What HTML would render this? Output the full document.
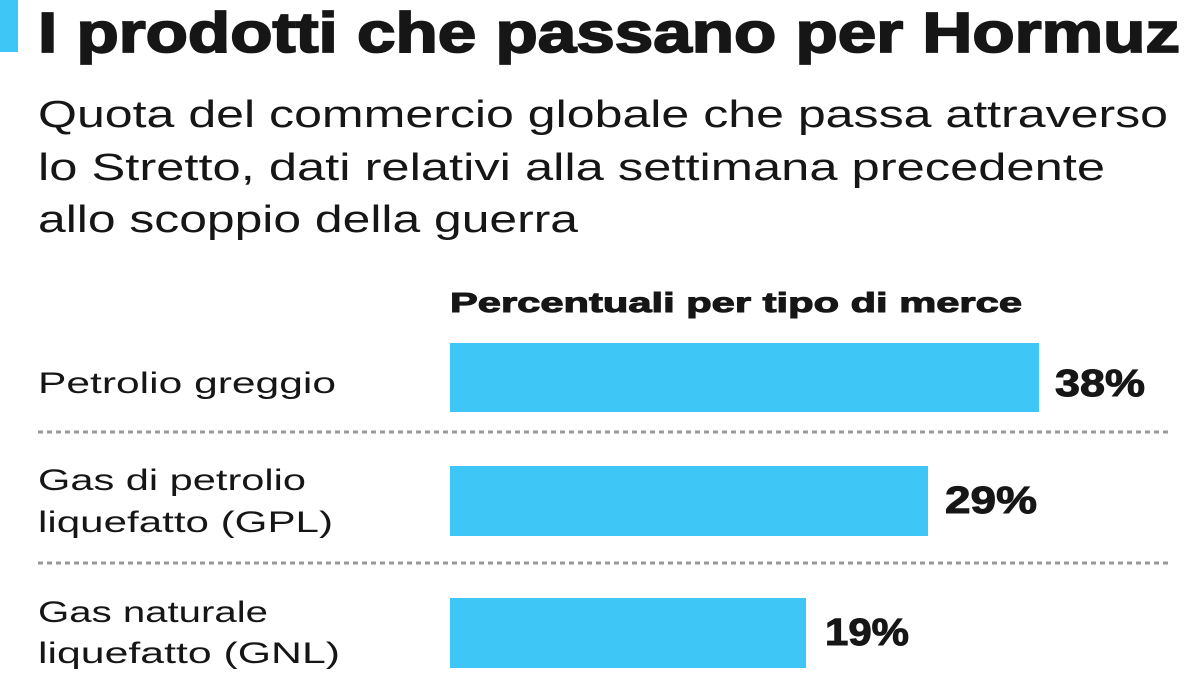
<!DOCTYPE html>
<html><head><meta charset="utf-8"><style>
html,body{margin:0;padding:0;background:#fff;}
svg{display:block;}
text{font-family:"Liberation Sans",sans-serif;fill:#161616;}
.b{font-weight:bold;}
.h{stroke:#161616;stroke-width:1.8;}
.p{stroke:#161616;stroke-width:1;}
</style></head><body>
<svg width="1200" height="675" viewBox="0 0 1200 675">
<rect x="0" y="0" width="18" height="52" fill="#3ec6f6"/>
<text class="b h" x="38" y="52" font-size="57" textLength="1142" lengthAdjust="spacingAndGlyphs">I prodotti che passano per Hormuz</text>
<text x="38" y="127" font-size="38" textLength="1130" lengthAdjust="spacingAndGlyphs">Quota del commercio globale che passa attraverso</text>
<text x="38" y="180" font-size="38" textLength="1067" lengthAdjust="spacingAndGlyphs">lo Stretto, dati relativi alla settimana precedente</text>
<text x="38" y="232" font-size="38" textLength="540" lengthAdjust="spacingAndGlyphs">allo scoppio della guerra</text>
<text class="b p" x="450" y="312" font-size="28" textLength="572" lengthAdjust="spacingAndGlyphs">Percentuali per tipo di merce</text>
<rect x="450" y="343" width="589" height="69" fill="#3ec6f6"/>
<rect x="450" y="466" width="478" height="70" fill="#3ec6f6"/>
<rect x="450" y="598" width="356" height="70" fill="#3ec6f6"/>
<text class="b p" x="1055" y="396" font-size="38" textLength="90" lengthAdjust="spacingAndGlyphs">38%</text>
<text class="b p" x="945" y="513" font-size="38" textLength="92" lengthAdjust="spacingAndGlyphs">29%</text>
<text class="b p" x="825" y="645" font-size="38" textLength="84" lengthAdjust="spacingAndGlyphs">19%</text>
<line x1="38" y1="432" x2="1168" y2="432" stroke="#999" stroke-width="3" stroke-dasharray="5,4"/>
<line x1="38" y1="563" x2="1168" y2="563" stroke="#999" stroke-width="3" stroke-dasharray="5,4"/>
<text x="38" y="393" font-size="30" textLength="298" lengthAdjust="spacingAndGlyphs">Petrolio greggio</text>
<text x="38" y="490" font-size="30" textLength="268" lengthAdjust="spacingAndGlyphs">Gas di petrolio</text>
<text x="38" y="532" font-size="30" textLength="295" lengthAdjust="spacingAndGlyphs">liquefatto (GPL)</text>
<text x="38" y="622" font-size="30" textLength="230" lengthAdjust="spacingAndGlyphs">Gas naturale</text>
<text x="38" y="663" font-size="30" textLength="302" lengthAdjust="spacingAndGlyphs">liquefatto (GNL)</text>
</svg>
</body></html>
